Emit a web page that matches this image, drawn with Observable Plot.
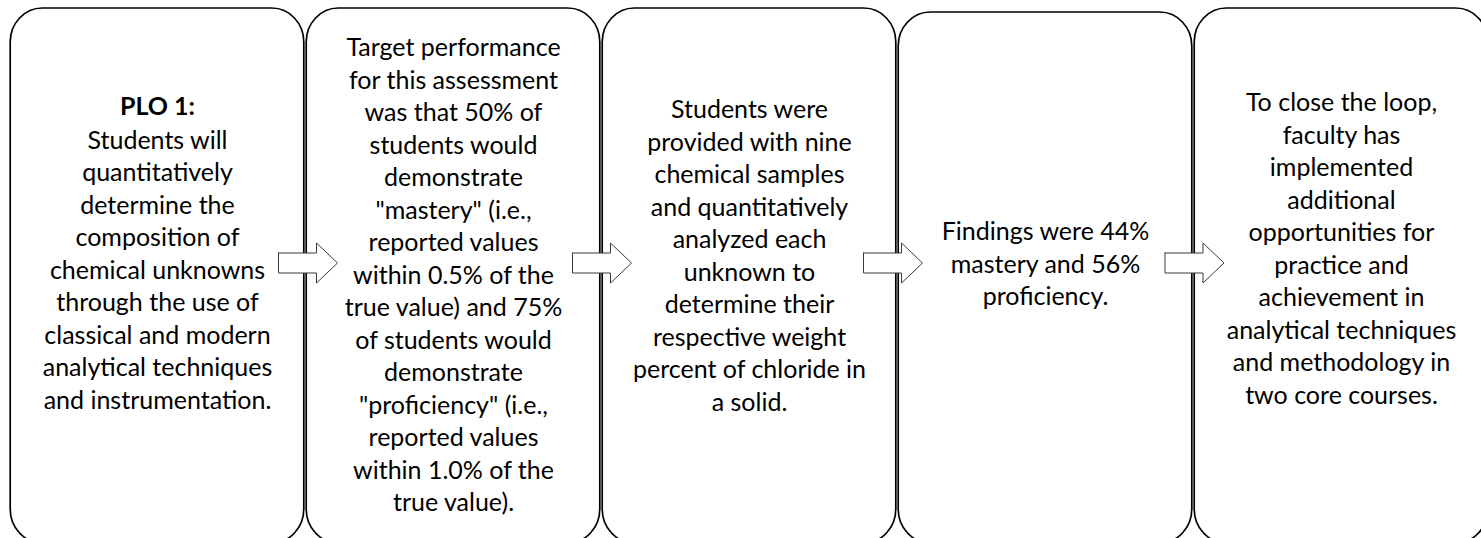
<!DOCTYPE html>
<html>
<head>
<meta charset="utf-8">
<script src="https://cdn.jsdelivr.net/npm/d3@7"></script>
<script src="https://cdn.jsdelivr.net/npm/@observablehq/plot@0.6"></script>
<style>
  html, body { margin: 0; padding: 0; background: #fff; overflow: hidden; }
  #chart svg { display: block; overflow: hidden; }
</style>
</head>
<body>
<div id="chart"></div>
<script>
// ---- data ----
const stepIds = ["plo", "target", "method", "findings", "loop"];
const stepTitles = ["PLO 1:", "", "", "", ""];
const stepTexts = [
  "Students will\nquantitatively\ndetermine the\ncomposition of\nchemical unknowns\nthrough the use of\nclassical and modern\nanalytical techniques\nand instrumentation.",
  "Target performance\nfor this assessment\nwas that 50% of\nstudents would\ndemonstrate\n\"mastery\" (i.e.,\nreported values\nwithin 0.5% of the\ntrue value) and 75%\nof students would\ndemonstrate\n\"proficiency\" (i.e.,\nreported values\nwithin 1.0% of the\ntrue value).",
  "Students were\nprovided with nine\nchemical samples\nand quantitatively\nanalyzed each\nunknown to\ndetermine their\nrespective weight\npercent of chloride in\na solid.",
  "Findings were 44%\nmastery and 56%\nproficiency.",
  "To close the loop,\nfaculty has\nimplemented\nadditional\nopportunities for\npractice and\nachievement in\nanalytical techniques\nand methodology in\ntwo core courses."
];
const arrowLinks = [[0, 1], [1, 2], [2, 3], [3, 4]];

// ---- layout (pixels) ----
const W = 1481, H = 538;
const boxLeft = 9, boxStep = 296;
const boxTop = [8, 8, 8, 12, 8];
const boxBottom = 543;
const lineH = 32.5, fontSize = 25;
const textMid = [268, 273, 253.5, 262, 246.5];
const titleMid = 106;
const arrowShift = [2.5, 0.5, -4.5, 1];
const arrowY = 262.5;
const px = (p) => p / boxStep; // pixel offset -> x units

const boxes = stepIds.map((id, i) => ({
  id, i, title: stepTitles[i], text: stepTexts[i],
  top: boxTop[i], mid: textMid[i]
}));

const arrowShape = [[-29.5, -10], [8.5, -10], [8.5, -20], [29.5, 0], [8.5, 20], [8.5, 10], [-29.5, 10], [-29.5, -10]];
const arrows = arrowLinks.flatMap(([a, b], k) =>
  arrowShape.map(([dx, dy]) => ({ k, x: b + px(dx + arrowShift[k]), y: arrowY + dy }))
);

const chart = Plot.plot({
  width: W,
  height: H,
  margin: 0,
  style: { background: "#fff", fontFamily: "Lato, 'Open Sans', sans-serif" },
  x: { type: "linear", domain: [0, 5], range: [boxLeft, boxLeft + 5 * boxStep], axis: null },
  y: { type: "linear", domain: [0, H], range: [0, H], axis: null },
  marks: [
    Plot.rect(boxes, {
      x1: (d) => d.i, x2: (d) => d.i + 1,
      y1: "top", y2: () => boxBottom,
      rx: 32, ry: 34,
      insetLeft: 1.2, insetRight: 1.2,
      fill: "white", stroke: "black", strokeWidth: 1.7
    }),
    Plot.line(arrows, {
      x: "x", y: "y", z: "k",
      fill: "white", stroke: "#3a3a3a", strokeWidth: 1, strokeLinejoin: "miter"
    }),
    Plot.text(boxes.filter((d) => d.title), {
      x: (d) => d.i + 0.5, y: () => titleMid,
      text: "title", fontSize, fontWeight: "bold", fill: "black",
      textAnchor: "middle", lineAnchor: "middle"
    }),
    Plot.text(boxes, {
      x: (d) => d.i + 0.5, y: "mid",
      text: "text", fontSize, fill: "black",
      textAnchor: "middle", lineAnchor: "middle", lineHeight: lineH / fontSize
    })
  ]
});
document.getElementById("chart").append(chart);
</script>
</body>
</html>
